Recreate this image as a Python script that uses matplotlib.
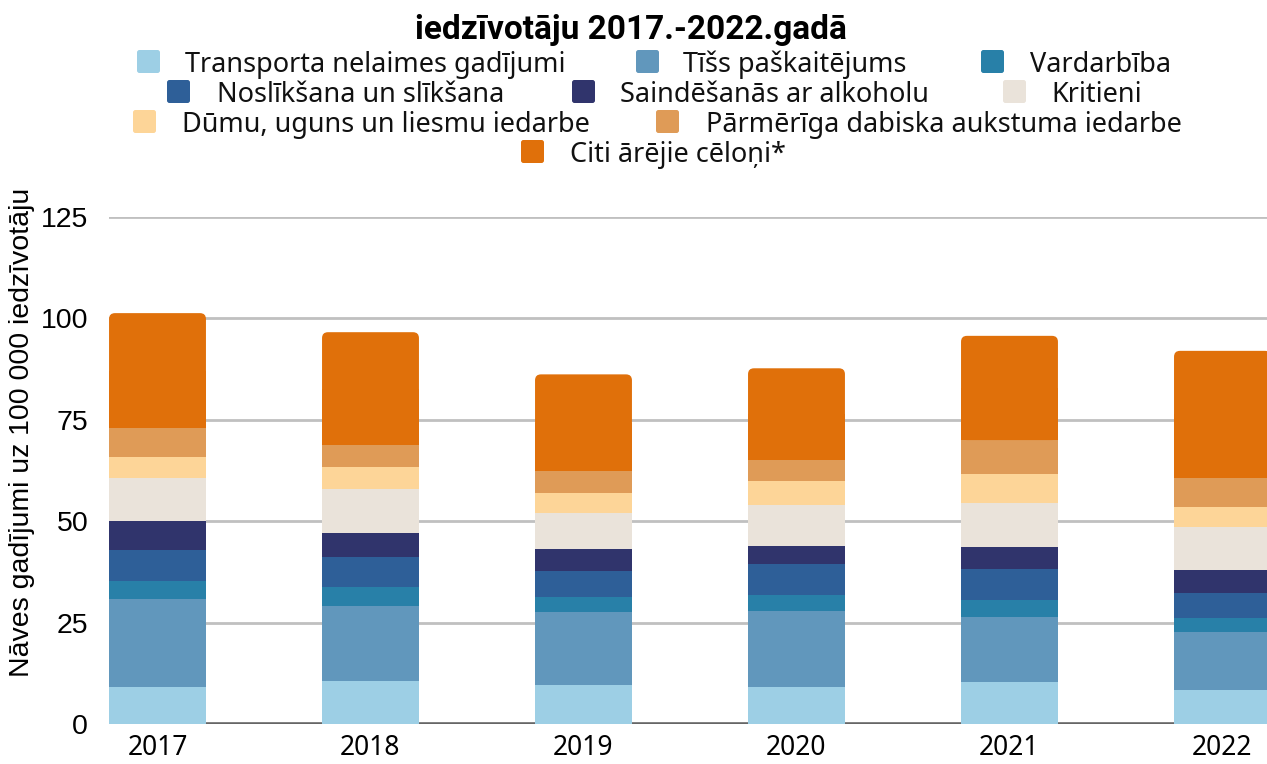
import matplotlib.pyplot as plt
import numpy as np
from matplotlib.patches import FancyBboxPatch

# dati
years = ['2017', '2018', '2019', '2020', '2021', '2022']
labels = ['Transporta nelaimes gadījumi', 'Tīšs paškaitējums', 'Vardarbība',
          'Noslīkšana un slīkšana', 'Saindēšanās ar alkoholu', 'Kritieni',
          'Dūmu, uguns un liesmu iedarbe', 'Pārmērīga dabiska aukstuma iedarbe',
          'Citi ārējie cēloņi*']
transport = [9.1, 10.6, 9.6, 9.1, 10.4, 8.4]
selfharm = [21.7, 18.5, 18.0, 18.8, 16.0, 14.3]
violence = [4.5, 4.7, 3.7, 3.9, 4.2, 3.4]
drowning = [7.6, 7.4, 6.4, 7.6, 7.6, 6.2]
alcohol = [7.1, 5.9, 5.4, 4.5, 5.4, 5.7]
falls = [10.7, 10.8, 8.9, 10.1, 10.9, 10.6]
smoke = [5.1, 5.5, 5.0, 5.9, 7.1, 4.9]
cold = [7.2, 5.4, 5.4, 5.2, 8.4, 7.2]
other = [28.3, 27.8, 23.8, 22.6, 25.7, 31.3]

series = [transport, selfharm, violence, drowning, alcohol, falls, smoke, cold, other]
colors = ['#9DCFE5', '#6197BC', '#2880A8', '#2E5F98', '#30346C',
          '#EAE3DA', '#FDD598', '#DF9B57', '#E0700A']

W, H = 1267, 764
fig = plt.figure(figsize=(W / 100, H / 100), dpi=100)
ax = fig.add_axes([109 / W, (H - 724) / H, 1 - 109 / W, (724 - 217) / H])

x = np.arange(len(years))
bw = 0.455
bottom = np.zeros(len(years))
for vals, c in zip(series, colors):
    bars = ax.bar(x, vals, bw, bottom=bottom, color=c, zorder=3, linewidth=0)
    bottom += np.array(vals)

# noapaļots augšējais segments
for r in bars:
    bx, by, bwid, bh = r.get_x(), r.get_y(), r.get_width(), r.get_height()
    r.set_height(bh / 2)
    ax.add_patch(FancyBboxPatch((bx, by), bwid, bh,
                                boxstyle='round,pad=0,rounding_size=0.028',
                                mutation_aspect=52, color=r.get_facecolor(),
                                linewidth=0, zorder=3))

ax.set_xlim(-0.2277, 5.209)
ax.set_ylim(0, 125)
ax.set_yticks([0, 25, 50, 75, 100, 125])
ax.yaxis.grid(True, color='#C0C0C0', linewidth=2, zorder=0)
ax.axhline(0, color='#666666', linewidth=2.6, zorder=2)
for s in ax.spines.values():
    s.set_visible(False)
ax.tick_params(length=0)
ax.tick_params(axis='y', labelsize=20.5, pad=15)
ax.tick_params(axis='x', pad=7)
for t in ax.get_yticklabels():
    t.set_fontfamily('Liberation Sans')
ax.set_xticks(x)
ax.set_xticklabels(years, fontsize=19, fontfamily='Noto Sans')
ax.set_ylabel('Nāves gadījumi uz 100 000 iedzīvotāju', fontsize=20.5,
              fontfamily='Liberation Sans')
ax.yaxis.set_label_coords(-87 / (W - 109), (724 - 432) / (724 - 217))
ax.yaxis.label.set_va('center')

# virsraksts un leģenda pikseļu koordinātēs
ov = fig.add_axes([0, 0, 1, 1], zorder=5)
ov.set_xlim(0, W)
ov.set_ylim(H, 0)
ov.axis('off')
ov.patch.set_alpha(0)
ov.text(631, 39, 'iedzīvotāju 2017.-2022.gadā', fontsize=24, fontweight='bold',
        fontfamily='Roboto', ha='center', va='baseline')

sq_x = [137, 636, 981, 167, 572, 1003, 133, 656, 521]
tx_x = [185, 683, 1030, 217, 620, 1051, 182, 706, 570]
row = [0, 0, 0, 1, 1, 1, 2, 2, 3]
base = [72, 102, 132, 162]
for i, lab in enumerate(labels):
    yb = base[row[i]]
    ov.add_patch(FancyBboxPatch((sq_x[i], yb - 22), 23, 23,
                                boxstyle='round,pad=0,rounding_size=2.5',
                                color=colors[i], linewidth=0))
    ov.text(tx_x[i], yb, lab, fontsize=19.5, fontfamily='Noto Sans',
            ha='left', va='baseline', color='#111111')

fig.savefig('out.png', dpi=100)
